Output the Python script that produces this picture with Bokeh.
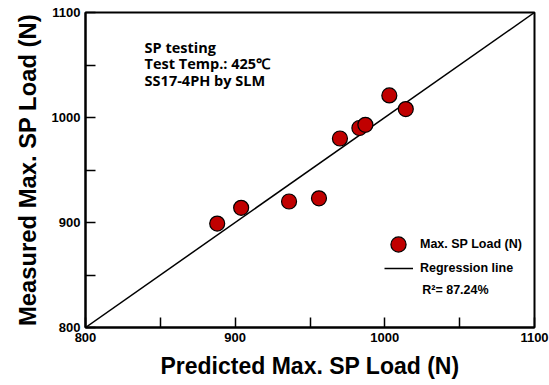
from bokeh.plotting import figure
from bokeh.models import Range1d, FixedTicker, Label, Legend, LegendItem, Title
from bokeh.embed import file_html
from bokeh.resources import INLINE

# Predicted vs. measured maximum small-punch load (N)
predicted = [888, 904, 936, 956, 970, 983, 987, 1003, 1014]
measured = [899, 914, 920, 923, 980, 990, 993, 1021, 1008]

# Regression line end points
reg_x = [800, 1100]
reg_y = [800, 1100]

major_ticks = [800, 900, 1000, 1100]
minor_ticks = [850, 950, 1050]

AXIS_FONT = "Liberation Sans"

p = figure(width=549, height=385, output_backend="svg", toolbar_location=None,
           x_range=Range1d(800, 1100), y_range=Range1d(800, 1100),
           min_border_left=85, min_border_right=15, min_border_top=12, min_border_bottom=58)

p.xgrid.visible = False
p.ygrid.visible = False
p.outline_line_color = "black"
p.outline_line_width = 2
p.background_fill_color = "white"
p.border_fill_color = "white"

for ax in (p.xaxis[0], p.yaxis[0]):
    ax.ticker = FixedTicker(ticks=major_ticks, minor_ticks=minor_ticks)
    ax.axis_line_color = "black"
    ax.axis_line_width = 2
    ax.major_tick_in = 10
    ax.major_tick_out = 0
    ax.minor_tick_in = 10
    ax.minor_tick_out = 0
    ax.major_tick_line_width = 1.5
    ax.minor_tick_line_width = 1.5
    ax.major_label_text_font = AXIS_FONT
    ax.major_label_text_font_style = "bold"
    ax.major_label_text_font_size = "13px"
    ax.major_label_text_color = "black"
    ax.major_label_standoff = 5

# Axis titles as side titles so they can be nudged along the frame
title_style = dict(text_font=AXIS_FONT, text_font_style="bold", text_color="black", align="center")
p.add_layout(Title(text="Measured Max. SP Load (N)", standoff=15, offset=9,
                   text_font_size="23.8px", **title_style), "left")
p.add_layout(Title(text="Predicted Max. SP Load (N)", standoff=13,
                   text_font_size="23px", **title_style), "below")

reg = p.line(reg_x, reg_y, line_color="black", line_width=1.5)
pts = p.scatter(predicted, measured, marker="circle", size=15,
                fill_color="#C00000", line_color="black", line_width=1.2)

legend_style = dict(border_line_color=None, background_fill_alpha=0, padding=0, margin=0,
                    label_text_font=AXIS_FONT, label_text_font_style="bold",
                    label_text_font_size="12.5px", label_text_color="black")

leg_pts = Legend(items=[LegendItem(label="Max. SP Load (N)", renderers=[pts])],
                 location=(294, 64), glyph_width=38, glyph_height=38, label_standoff=3,
                 **legend_style)
leg_reg = Legend(items=[LegendItem(label="Regression line", renderers=[reg])],
                 location=(299, 50), glyph_width=29, glyph_height=18, label_height=18,
                 label_standoff=7, **legend_style)
p.add_layout(leg_pts)
p.add_layout(leg_reg)

p.add_layout(Label(x=1025, y=836, text="R²= 87.24%", text_baseline="middle",
                   text_font=AXIS_FONT, text_font_style="bold", text_font_size="12.5px",
                   text_color="black"))

notes = ["SP testing", "Test Temp.: 425℃", "SS17-4PH by SLM"]
note_y = [1066.5, 1051, 1035]
for txt, ny in zip(notes, note_y):
    p.add_layout(Label(x=839.5, y=ny, text=txt, text_baseline="middle",
                       text_font="Open Sans", text_font_style="bold", text_font_size="14.5px",
                       text_color="black"))

open("out.html", "w").write(file_html(p, INLINE))
